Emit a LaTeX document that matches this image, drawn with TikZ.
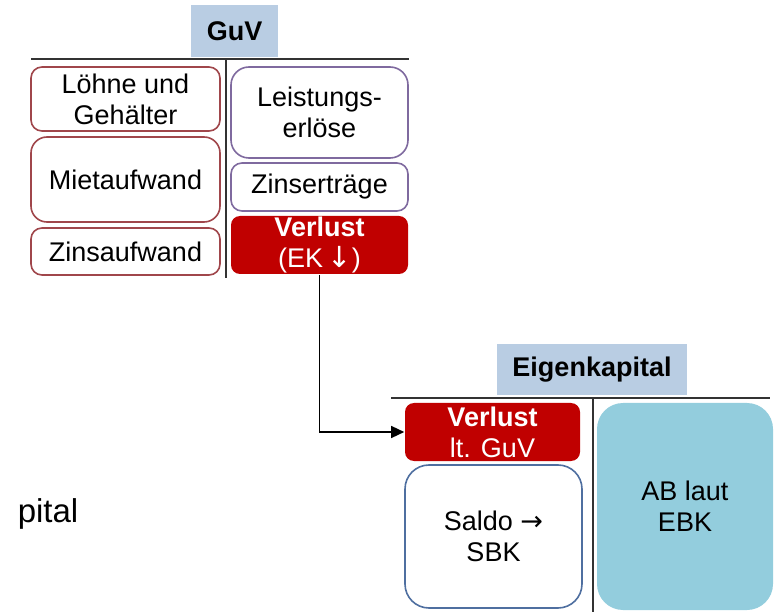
\documentclass[tikz,border=0pt]{standalone}
\usepackage{fontspec}
\setmainfont{Liberation Sans}
\newfontfamily\arrowfont{DejaVu Sans}
\usetikzlibrary{arrows.meta}
\definecolor{hdr}{HTML}{B9CDE3}
\definecolor{darkred}{HTML}{C00000}
\definecolor{lbord}{HTML}{A0464B}
\definecolor{rbord}{HTML}{7F6A9F}
\definecolor{sbord}{HTML}{4F6FA0}
\definecolor{abfill}{HTML}{93CDDD}
\definecolor{rule}{HTML}{333333}
\tikzset{
  base/.style={font=\fontsize{27}{31}\selectfont, align=center, inner sep=0pt, line width=1.6pt},
  hdrbox/.style={base, fill=hdr, font=\fontsize{27}{31}\selectfont\bfseries},
  lbox/.style={base, draw=lbord, fill=white, rounded corners=11pt, minimum width=189pt},
  rbox/.style={base, draw=rbord, fill=white, rounded corners=11pt, minimum width=177pt},
  redbox/.style={base, fill=darkred, text=white, rounded corners=9pt},
  tline/.style={rule, line width=1.8pt},
  conn/.style={black, line width=1.4pt, -{Triangle[length=13pt,width=12pt]}}
}
\begin{document}
\begin{tikzpicture}[x=1pt,y=-1pt]
\useasboundingbox (0,0) rectangle (777,612);
% GuV account
\node[hdrbox, minimum width=87pt, minimum height=52pt] (guvh) at (234.5,31) {GuV};
\coordinate (gl) at (31,59);
\coordinate (gr) at (409,59);
\coordinate (gt) at (226,59);
\coordinate (gb) at (226,278);
\draw[tline] (gl) -- (gr);
\draw[tline] (gt) -- (gb);
\node[lbox, minimum height=64pt] (loehne) at (125.5,99) {Löhne und\\Gehälter};
\node[lbox, minimum height=85pt, rounded corners=16pt] (miete) at (125.5,179.5) {Mietaufwand};
\node[lbox, minimum height=47pt] (zinsa) at (125.5,251.5) {Zinsaufwand};
\node[rbox, minimum height=91pt, rounded corners=18pt] (leist) at (319.5,112.5) {Leistungs-\\erlöse};
\node[rbox, minimum height=48pt] (zinse) at (319.5,187) {Zinserträge};
\node[redbox, minimum width=177pt, minimum height=58pt] (verl1) at (319.5,245) {\textbf{Verlust}\\(EK\,{\arrowfont\fontsize{29}{31}\selectfont ↓})};
% Eigenkapital account
\node[hdrbox, minimum width=190pt, minimum height=51pt] (ekh) at (592,369.5) {Eigenkapital};
\coordinate (el) at (391,398);
\coordinate (er) at (770,398);
\coordinate (et) at (593,398);
\coordinate (eb) at (593,612);
\draw[tline] (el) -- (er);
\draw[tline] (et) -- (eb);
\node[redbox, minimum width=175pt, minimum height=58pt] (verl2) at (492.5,432) {\textbf{Verlust}\\lt. GuV};
\node[base, draw=sbord, fill=white, rounded corners=24pt, minimum width=177pt, minimum height=143pt] (saldo) at (493.5,536.5) {Saldo {\arrowfont\fontsize{27}{31}\selectfont →}\\SBK};
\node[base, fill=abfill, rounded corners=26pt, minimum width=176pt, minimum height=207pt] (ab) at (685,506.5) {AB laut\\EBK};
% cut-off text
\node[base, anchor=base west, font=\fontsize{33}{36}\selectfont] (pital) at (17,522) {pital};
% connector
\draw[conn] (verl1.south) |- (verl2.west);
\end{tikzpicture}
\end{document}
